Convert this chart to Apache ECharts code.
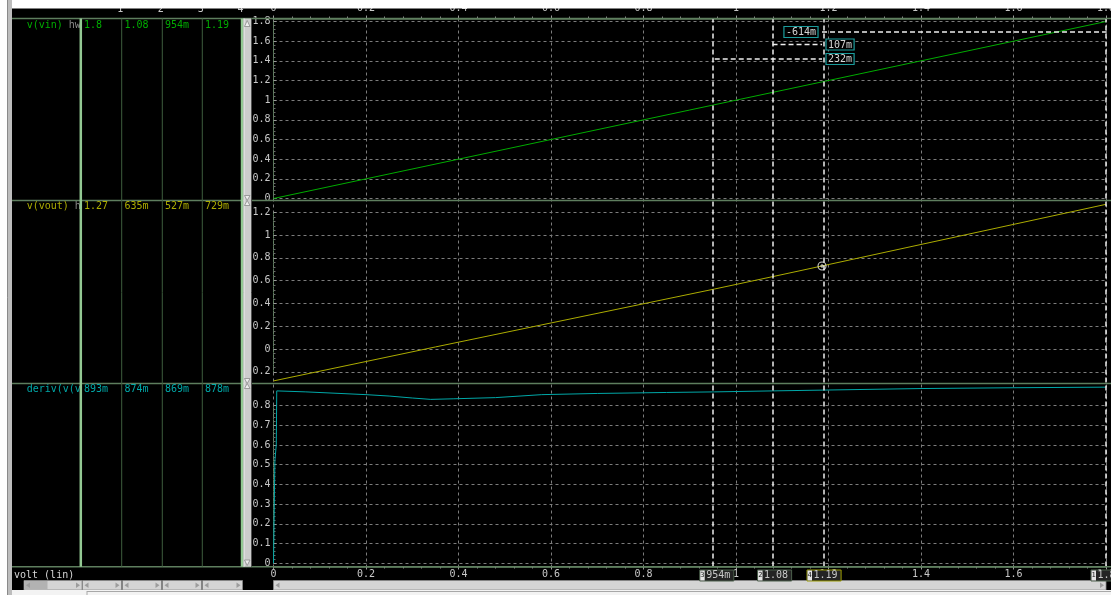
<!DOCTYPE html>
<html>
<head>
<meta charset="utf-8">
<title>volt (lin) sweep</title>
<script src="https://cdn.jsdelivr.net/npm/echarts@6/dist/echarts.min.js"></script>
<style>
html,body{margin:0;padding:0;background:#fff;overflow:hidden;}
#chart{width:1111px;height:595px;}
</style>
</head>
<body>
<div id="chart"></div>
<script>
// ---- sweep data: x axis is the swept input voltage (volts) ----
const vinX = [0, 1.8];
const vinY = [0, 1.8];
const voutX = [0, 0.35, 0.954, 1.079, 1.186, 1.8];
const voutY = [-0.28, 0.018, 0.527, 0.635, 0.729, 1.27];
const derivX = [0, 0.003, 0.006, 0.007, 0.07, 0.2, 0.25, 0.3, 0.34, 0.39, 0.48, 0.52, 0.58, 0.7, 0.85, 0.954, 1.079, 1.186, 1.4, 1.6, 1.8];
const derivY = [0, 0.52, 0.6, 0.874, 0.869, 0.855, 0.848, 0.838, 0.831, 0.834, 0.840, 0.846, 0.855, 0.861, 0.866, 0.869, 0.874, 0.878, 0.886, 0.890, 0.893];

// cursors 1..4 and their positions on the sweep axis
const cursorIds = ['1', '2', '3', '4'];
const cursorX = [1.8, 1.079, 0.954, 1.186];
const activeCursor = 3;

// signal list shown in the left panel
const signalNames = ['v(vin)', 'v(vout)', 'deriv(v(vout))'];
const signalTag = 'hw';
const signalColors = ['#00ac00', '#acac00', '#00a8a8'];
const axisTitle = 'volt (lin)';

const MONO = '"DejaVu Sans Mono", "Liberation Mono", monospace';
const LABEL = '#c8c8c8';
const GRIDC = '#7c7c7c';
const SEP = '#5e7e5e';

function zip(xs, ys) { return xs.map((x, i) => [x, ys[i]]); }
function valueAt(xs, ys, x) {
  for (let i = 0; i < xs.length - 1; i++) {
    if (x >= xs[i] && x <= xs[i + 1]) {
      const t = (x - xs[i]) / (xs[i + 1] - xs[i]);
      return ys[i] + t * (ys[i + 1] - ys[i]);
    }
  }
  return ys[ys.length - 1];
}
// engineering notation as used by the waveform viewer (3 significant digits, m suffix)
function spice(v) {
  const a = Math.abs(v);
  if (a >= 1 || a === 0) return String(+v.toPrecision(3));
  return String(+(v * 1000).toPrecision(3)) + 'm';
}

const signals = [
  { x: vinX, y: vinY },
  { x: voutX, y: voutY },
  { x: derivX, y: derivY }
];

const GL = 273.5, GR = 5;

function yAxisFor(gridIndex, min, max, interval) {
  return {
    type: 'value', gridIndex, min, max, interval,
    axisLine: { show: true, lineStyle: { color: SEP, type: 'dotted' } },
    axisTick: { show: true, inside: true, length: 3, lineStyle: { color: '#9a9a9a' } },
    minorTick: { show: true, splitNumber: 5, length: 2, lineStyle: { color: '#6a6a6a' } },
    axisLabel: { color: LABEL, fontFamily: MONO, fontSize: 10, margin: 3 },
    splitLine: { show: true, lineStyle: { color: GRIDC, type: [3, 3], width: 1 } }
  };
}
function hiddenX(gridIndex) {
  return { type: 'value', gridIndex, min: 0, max: 1.8, show: false };
}
function rulerX(position) {
  return {
    type: 'value', gridIndex: 0, position, min: 0, max: 1.8, interval: 0.2,
    axisLine: { show: true, onZero: false, lineStyle: { color: SEP, width: 1.5 } },
    axisTick: { show: true, length: 3, lineStyle: { color: '#9a9a9a' } },
    minorTick: { show: true, splitNumber: 5, length: 2, lineStyle: { color: '#8a8a8a' } },
    axisLabel: { color: LABEL, fontFamily: MONO, fontSize: 10, margin: position === 'top' ? 5 : 3, showMaxLabel: true },
    splitLine: { show: position === 'bottom', lineStyle: { color: GRIDC, type: [3, 3], width: 1 } }
  };
}
function gridAt(top, height) {
  return { left: GL, right: GR, top, height, containLabel: false, outerBoundsMode: 'none' };
}

const chart = echarts.init(document.getElementById('chart'));

// circle-with-crosshair marker for the active cursor
const cursorMarker = 'path://M10,2A8,8,0,1,1,10,18A8,8,0,1,1,10,2Z M10,6L10,14 M6,10L14,10';

const option = {
  animation: false,
  backgroundColor: '#000',
  grid: [
    gridAt(18.5, 548),     // frame with x rulers
    gridAt(21.5, 177),     // v(vin)
    gridAt(212.3, 159.5),  // v(vout)
    gridAt(405.5, 157.8)   // deriv
  ],
  xAxis: [rulerX('bottom'), rulerX('top'), hiddenX(1), hiddenX(2), hiddenX(3)],
  yAxis: [
    { type: 'value', gridIndex: 0, min: 0, max: 1, show: false },
    yAxisFor(1, 0, 1.8, 0.2),
    yAxisFor(2, -0.2, 1.2, 0.2),
    yAxisFor(3, 0, 0.8, 0.1)
  ],
  series: [
    {
      type: 'line', xAxisIndex: 0, yAxisIndex: 0, data: [[0, 0]], showSymbol: false,
      lineStyle: { width: 0 }, silent: true,
      markLine: {
        silent: true, symbol: ['none', 'none'], label: { show: false },
        lineStyle: { color: '#eeeeee', type: [5, 3], width: 1.5 },
        data: cursorX.map(x => ({ xAxis: x }))
      }
    },
    {
      type: 'line', xAxisIndex: 2, yAxisIndex: 1, data: zip(vinX, vinY), showSymbol: false, clip: false,
      lineStyle: { color: signalColors[0], width: 1 }
    },
    {
      type: 'line', xAxisIndex: 3, yAxisIndex: 2, data: zip(voutX, voutY), showSymbol: false, clip: false,
      lineStyle: { color: signalColors[1], width: 1 }
    },
    {
      type: 'line', xAxisIndex: 4, yAxisIndex: 3, data: zip(derivX, derivY), showSymbol: false, clip: false,
      lineStyle: { color: signalColors[2], width: 1 }
    },
    {
      type: 'scatter', xAxisIndex: 3, yAxisIndex: 2, symbol: cursorMarker, symbolSize: 8,
      data: [[cursorX[activeCursor], valueAt(voutX, voutY, cursorX[activeCursor])]],
      itemStyle: { color: 'rgba(0,0,0,0)', borderColor: '#ffffff', borderWidth: 1.1 }, z: 5
    }
  ]
};
chart.setOption(option);

// ---- viewer chrome: panel frames, cursor table, cursor readouts ----
const px = v => chart.convertToPixel({ xAxisIndex: 0 }, v);
const g = [];
function rect(x, y, w, h, fill, z, stroke, lw) {
  g.push({ type: 'rect', silent: true, z: z || 100, shape: { x, y, width: w, height: h },
    style: { fill, stroke: stroke || null, lineWidth: lw || 1 } });
}
function line(x1, y1, x2, y2, stroke, lw, dash, z) {
  g.push({ type: 'line', silent: true, z: z || 100, shape: { x1, y1, x2, y2 },
    style: { stroke, lineWidth: lw || 1, lineDash: dash || null } });
}
function poly(points, fill, stroke, z) {
  g.push({ type: 'polygon', silent: true, z: z || 105, shape: { points },
    style: { fill, stroke: stroke || null, lineWidth: 0.8 } });
}
function text(x, y, t, fill, align, z, size) {
  g.push({ type: 'text', silent: true, z: z || 110, x, y,
    style: { text: t, fill, font: (size || 10) + 'px ' + MONO,
      textAlign: align || 'left', textVerticalAlign: 'middle', align: align || 'left', verticalAlign: 'middle' } });
}

const rows = [18.5, 200.5, 383.5, 566.7];
const colLines = [80.8, 121.7, 162.3, 202.3, 242];
const valueCols = [84, 124.5, 165, 205];

// panel separators
rows.forEach(y => line(12, y, 1111, y, SEP, 1.5, null, 100));
// left table column rules
colLines.forEach((x, i) => {
  const thick = i === 0 || i === colLines.length - 1;
  line(x, rows[0], x, rows[3], thick ? '#93c993' : '#3e5e3e', thick ? 2.5 : 1, null, 104);
});
// column headers (cursor numbers)
cursorIds.forEach((id, i) => text(colLines[i + 1] - 1.5, 9.5, id, LABEL, 'center', 110));

// signal names and cursor readouts
signals.forEach((s, r) => {
  const yText = rows[r] + (r === 0 ? 6.5 : 5.8);
  const full = (signalNames[r] + ' ' + signalTag).slice(0, 9);
  const nameShown = full.slice(0, Math.min(signalNames[r].length, 9));
  const tagShown = full.slice(nameShown.length);
  text(26.7, yText, nameShown, signalColors[r], 'left', 102);
  if (tagShown) text(26.7 + nameShown.length * 6.02, yText, tagShown, '#8c8c8c', 'left', 102);
  cursorX.forEach((cx, c) => {
    text(valueCols[c], yText, spice(valueAt(s.x, s.y, cx)), signalColors[r], 'left', 110);
  });
});

// vertical scroller beside the table
rect(243.3, rows[0], 7.7, rows[3] - rows[0], '#cdcdcd', 103);
line(244, rows[0], 244, rows[3], '#efefef', 1, null, 104);
line(251.5, rows[0], 251.5, rows[3], '#505050', 1, null, 104);
poly([[244.5, 26.5], [247.2, 20.5], [250, 26.5]], '#eeeeee', '#8a8a8a');
poly([[244.5, 560], [247.2, 565.5], [250, 560]], '#eeeeee', '#8a8a8a');
[rows[1], rows[2]].forEach(y => {
  poly([[244.5, y - 5], [250, y - 5], [247.2, y]], '#eeeeee', '#8a8a8a');
  poly([[244.5, y + 5], [250, y + 5], [247.2, y]], '#eeeeee', '#8a8a8a');
});

// cursor delta readouts relative to the active cursor
const cx = cursorX.map(px);
const ca = cx[activeCursor];
const deltaRows = [32, 44.5, 59];
[0, 1, 2].forEach((i, k) => {
  const y = deltaRows[k];
  const x1 = Math.min(cx[i], ca), x2 = Math.max(cx[i], ca);
  line(x1, y, x2, y, '#eeeeee', 1.5, [5, 3], 106);
  const label = spice(cursorX[activeCursor] - cursorX[i]);
  const w = label.length * 6.02 + 4;
  const bx = cx[i] > ca ? ca - 4 - w : ca + 4;
  rect(bx, y - 5.5, w, 11, '#000', 107, '#1b9c9c', 1.2);
  text(bx + w / 2, y + 0.5, label, '#d4d4d4', 'center', 110);
});

// cursor position flags on the bottom ruler
cursorX.forEach((v, i) => {
  const label = spice(v);
  const w = label.length * 6.02 + 10;
  const bx = cx[i] - 15;
  rect(bx, 570, w, 11, '#242424', 107, i === activeCursor ? '#9c9c00' : '#4c604c', 1);
  rect(bx + 0.5, 570.5, 4.5, 10, '#e6e6e6', 108);
  text(bx + 2.7, 575.5, cursorIds[i], '#202020', 'center', 109, 7);
  text(bx + 6.5, 575.5, label, LABEL, 'left', 110);
});

text(14, 575, axisTitle, '#d6d6d6', 'left', 110);

// horizontal scrollers along the bottom
const segs = [[24, 82], [82.5, 121.5], [122.5, 161.5], [162.5, 201.5], [202.5, 242.5], [273.5, 1106]];
segs.forEach(([a, b], i) => {
  rect(a, 580.5, b - a, 9.5, '#d4d4d4', 100, '#8c8c8c', 0.8);
  if (i === 0) rect(a + 0.5, 581, 23, 8.5, '#b2b2b2', 101);
  poly([[a + 6, 582.5], [a + 2, 585.2], [a + 6, 588]], '#9c9c9c');
  poly([[b - 6, 582.5], [b - 2, 585.2], [b - 6, 588]], '#9c9c9c');
});

// page margins around the viewer
rect(0, 0, 1111, 8.5, '#ffffff', 300);
rect(0, 590, 1111, 5, '#f3f3f3', 300);
line(87, 591.5, 1111, 591.5, '#a8a8a8', 1, null, 301);
line(10, 591, 10, 595, '#a8a8a8', 1, null, 301);
line(87, 591, 87, 595, '#a8a8a8', 1, null, 301);
rect(0, 0, 7, 595, '#ffffff', 300);
rect(7, 0, 5, 595, '#bdbdbd', 301);
line(7.5, 0, 7.5, 595, '#8a8a8a', 1, null, 302);

chart.setOption({ graphic: { elements: g } });
</script>
</body>
</html>
